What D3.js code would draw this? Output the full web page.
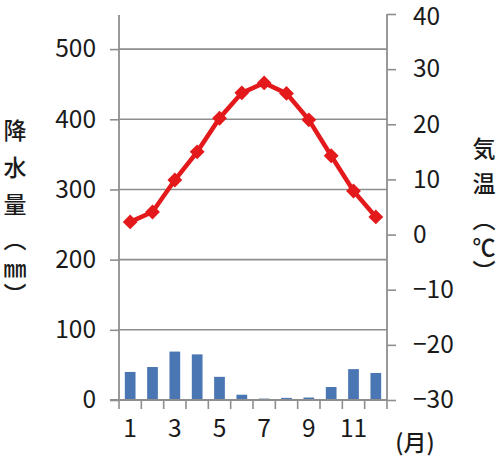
<!DOCTYPE html>
<html><head><meta charset="utf-8">
<script src="https://cdn.jsdelivr.net/npm/d3@7"></script>
<style>
html,body{margin:0;padding:0;background:#fff;}
svg{display:block;}
text{font-family:"Noto Sans CJK JP","Noto Sans",sans-serif;fill:#1a1a1a;}
</style></head>
<body>
<svg id="chart" width="500" height="466"></svg>
<script>
const months = [1,2,3,4,5,6,7,8,9,10,11,12];
const monthLabels = ["1","","3","","5","","7","","9","","11",""];
const precipitation = [40,47,69,65,33,7.5,2,3,3.5,18.5,44,38.5];
const temperature = [2.3,4.1,9.9,15.0,21.1,25.7,27.5,25.6,20.8,14.3,7.9,3.2];
const precipTicks = [0,100,200,300,400,500];
const tempTicks = [-30,-20,-10,0,10,20,30,40];
const leftTitle = ["降","水","量","︵","㎜","︶"];
const rightTitle = ["気","温","︵","℃","︶"];

const svg = d3.select("#chart");
const L = 119, R = 387, B = 400, T = 14;
const gray = "#8e8e8e";

const x = d3.scaleBand().domain(months).range([L, R]).paddingInner(0).paddingOuter(0);
const yP = d3.scaleLinear().domain([0, 550]).range([B, T]);
const yT = d3.scaleLinear().domain([-30, 40]).range([B, T]);

// gridlines
svg.append("g").selectAll("line").data(precipTicks.filter(d => d > 0)).join("line")
  .attr("x1", L).attr("x2", R).attr("y1", d => yP(d)).attr("y2", d => yP(d))
  .attr("stroke", gray).attr("stroke-width", 1.6);

// bars
const bw = x.bandwidth() * 0.48;
svg.append("g").selectAll("rect").data(months).join("rect")
  .attr("x", (d) => x(d) + (x.bandwidth() - bw) / 2)
  .attr("width", bw)
  .attr("y", (d, i) => yP(precipitation[i]))
  .attr("height", (d, i) => B - yP(precipitation[i]))
  .attr("fill", "#4a76b3");

const numFont = "'Noto Sans CJK JP', sans-serif";
// left axis
const leftAxis = d3.axisLeft(yP).tickValues(precipTicks).tickSize(9).tickPadding(14).tickFormat(d3.format("d"));
const gl = svg.append("g").attr("transform", `translate(${L},0)`).call(leftAxis);
gl.select(".domain").attr("d", `M0,${B}V${T+1}`).attr("stroke", gray).attr("stroke-width", 1.8);
gl.selectAll(".tick line").attr("stroke", gray).attr("stroke-width", 1.6);
gl.selectAll(".tick text").attr("font-size", 24.5).attr("font-weight", 400).attr("fill", "#222")
  .attr("font-family", numFont);

// right axis
const rightAxis = d3.axisRight(yT).tickValues(tempTicks).tickSize(9).tickPadding(17).tickFormat(d3.format("d"));
const gr = svg.append("g").attr("transform", `translate(${R},0)`).call(rightAxis);
gr.select(".domain").attr("d", `M0,${B}V${T}`).attr("stroke", gray).attr("stroke-width", 1.8);
gr.selectAll(".tick line").attr("stroke", gray).attr("stroke-width", 1.6);
gr.selectAll(".tick text").attr("font-size", 24.5).attr("font-weight", 400).attr("fill", "#222")
  .attr("font-family", numFont);
gr.selectAll(".tick").filter(d => d === 40).select("text").attr("dy", "0.42em");

// bottom axis
const bottomAxis = d3.axisBottom(x).tickSize(0).tickPadding(20).tickFormat((d, i) => monthLabels[i]);
const gb = svg.append("g").attr("transform", `translate(0,${B})`).call(bottomAxis);
gb.select(".domain").attr("d", `M${L-9},0H${R}`).attr("stroke", gray).attr("stroke-width", 1.8);
gb.selectAll(".tick text").attr("font-size", 24.5).attr("font-weight", 400).attr("fill", "#222")
  .attr("font-family", numFont);
// category boundary ticks
const bounds = months.map(m => x(m)).concat([x(12) + x.bandwidth()]);
svg.append("g").selectAll("line").data(bounds).join("line")
  .attr("x1", d => d).attr("x2", d => d).attr("y1", B).attr("y2", B + 9)
  .attr("stroke", gray).attr("stroke-width", 1.6);

// temperature line
const cx = d => x(d) + x.bandwidth() / 2;
const line = d3.line().x((d, i) => cx(months[i])).y(d => yT(d));
svg.append("path").datum(temperature).attr("d", line)
  .attr("fill", "none").attr("stroke", "#e3191b").attr("stroke-width", 4.5);
svg.append("g").selectAll("path").data(temperature).join("path")
  .attr("d", d3.symbol().type(d3.symbolSquare).size(110))
  .attr("transform", (d, i) => `translate(${cx(months[i])},${yT(d)}) rotate(45)`)
  .attr("fill", "#e3191b");

// titles
const leftY = [129, 166, 203, 238, 267, 293];
leftTitle.forEach((c, i) => {
  svg.append("text").attr("x", 15).attr("y", leftY[i])
    .attr("text-anchor", "middle").attr("dominant-baseline", "central")
    .attr("font-size", 23).attr("font-weight", 500).text(c);
});
const rightY = [147, 182, 218, 246, 270];
rightTitle.forEach((c, i) => {
  svg.append("text").attr("x", 484).attr("y", rightY[i])
    .attr("text-anchor", "middle").attr("dominant-baseline", "central")
    .attr("font-size", 23).attr("font-weight", 500).text(c);
});
svg.append("text").attr("x", 415).attr("y", 441).attr("text-anchor", "middle")
  .attr("dominant-baseline", "central").attr("font-size", 23).attr("font-weight", 500).text("(月)");
</script>
</body></html>
